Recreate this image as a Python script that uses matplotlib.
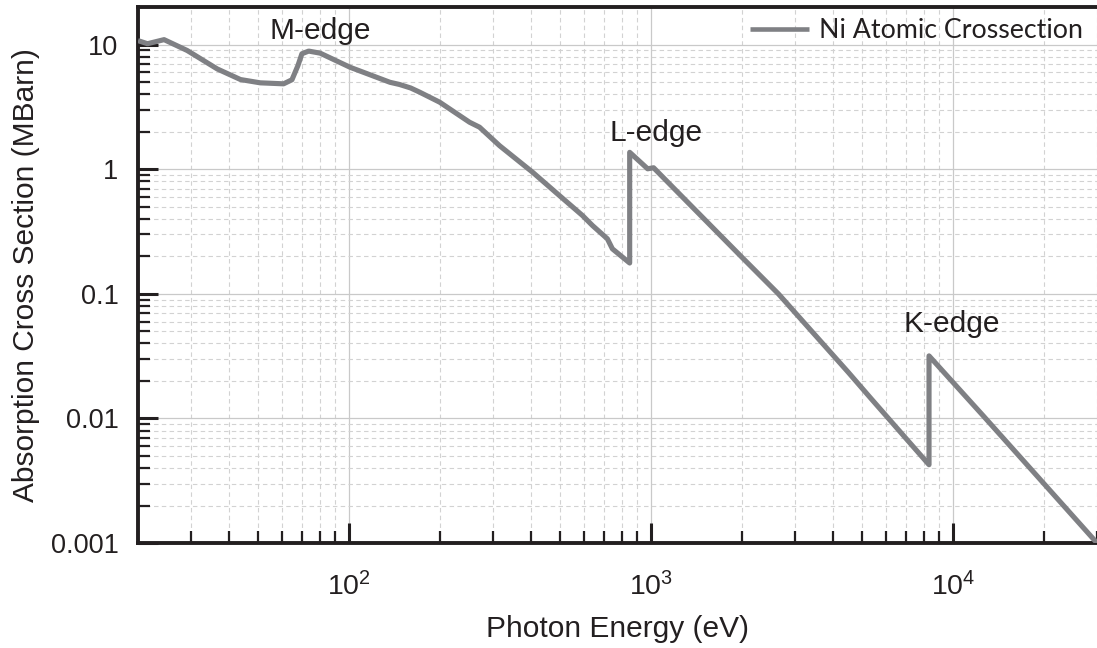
import matplotlib
matplotlib.use("Agg")
import matplotlib.pyplot as plt
from matplotlib.ticker import LogLocator, NullFormatter, FixedLocator

# ---- data ----
energy_eV = [20, 21.5, 24.4, 29.1, 36.6, 43.7, 50.8, 60.7, 64.7, 67.7, 69.8, 73.5,
             80.2, 100.8, 136.6, 147, 160, 171.5, 199.6, 232.5, 250.6, 270.5, 315,
             405, 497, 593, 640, 717, 745, 850, 850, 975, 1020, 2000, 2643, 4500,
             5374, 8333, 8333, 12600, 30000]
sigma_MBarn = [10.8, 10.2, 11.0, 9.0, 6.4, 5.26, 4.95, 4.86, 5.24, 6.8, 8.47, 8.9,
               8.57, 6.6, 5.0, 4.8, 4.5, 4.16, 3.46, 2.7, 2.39, 2.18, 1.55,
               0.95, 0.617, 0.426, 0.354, 0.277, 0.23, 0.177, 1.37, 1.01, 1.03,
               0.197, 0.1, 0.0235, 0.0143, 0.00425, 0.0318, 0.0105, 0.001]
series_label = "Ni Atomic Crossection"
edge_labels = ["M-edge", "L-edge", "K-edge"]
edge_label_x = [80.2, 1038, 9930]
edge_label_y = [11.2, 1.70, 0.0492]
y_ticks = [0.001, 0.01, 0.1, 1, 10]
y_tick_labels = ["0.001", "0.01", "0.1", "1", "10"]
x_ticks = [1e2, 1e3, 1e4]
x_tick_labels = [r"$\mathdefault{10^{2}}$", r"$\mathdefault{10^{3}}$", r"$\mathdefault{10^{4}}$"]

plt.rcParams['font.family'] = ['Liberation Sans', 'DejaVu Sans']
plt.rcParams['mathtext.fontset'] = 'custom'
plt.rcParams['mathtext.rm'] = 'Liberation Sans'
plt.rcParams['mathtext.it'] = 'Liberation Sans:italic'
plt.rcParams['mathtext.bf'] = 'Liberation Sans:bold'

W, H = 1097, 648
fig = plt.figure(figsize=(W / 100, H / 100), dpi=100)
ax = fig.add_axes([138 / W, (H - 543) / H, (W - 138) / W, 535.7 / H])

line_color = '#7f8084'
ink = '#231f20'

ax.plot(energy_eV, sigma_MBarn, color=line_color, lw=3.7, solid_joinstyle='round',
        solid_capstyle='butt', label=series_label, zorder=3)

ax.set_xscale('log')
ax.set_yscale('log')
ax.set_xlim(20, 30000)
ax.set_ylim(0.001, 20)

ax.xaxis.set_major_locator(FixedLocator(x_ticks))
ax.set_xticklabels(x_tick_labels)
ax.xaxis.set_minor_locator(LogLocator(base=10, subs=range(2, 10)))
ax.xaxis.set_minor_formatter(NullFormatter())
ax.yaxis.set_major_locator(FixedLocator(y_ticks))
ax.set_yticklabels(y_tick_labels)
ax.yaxis.set_minor_locator(LogLocator(base=10, subs=range(2, 10)))
ax.yaxis.set_minor_formatter(NullFormatter())

ax.grid(True, which='major', color='#c9c9c9', lw=0.9, ls='-', zorder=0)
ax.grid(True, which='minor', color='#d2d2d2', lw=0.8, ls=(0, (4, 3)), zorder=0)
ax.set_axisbelow(True)

for side in ['left', 'bottom', 'top']:
    ax.spines[side].set_linewidth(2.8)
    ax.spines[side].set_color(ink)
ax.spines['right'].set_visible(False)

ax.tick_params(axis='both', which='major', direction='in', length=14.5, width=2.2,
               color=ink, labelcolor=ink, top=False, right=False)
ax.tick_params(axis='both', which='minor', direction='in', length=8.8, width=1.6,
               color=ink, top=False, right=False)
ax.tick_params(axis='x', which='major', labelsize=20.5, pad=21)
ax.tick_params(axis='y', which='major', labelsize=19.5, pad=14)

ax.set_xlabel("Photon Energy (eV)", fontsize=21.5, color=ink)
ax.set_ylabel("Absorption Cross Section (MBarn)", fontsize=21.5, color=ink)
ax.xaxis.set_label_coords(0.5, -0.134)
ax.yaxis.set_label_coords(-0.1026, 0.5)

for txt, xx, yy in zip(edge_labels, edge_label_x, edge_label_y):
    ax.text(xx, yy, txt, fontsize=21.5, color=ink, ha='center', va='baseline', zorder=4)

leg = ax.legend(loc='upper right', frameon=False, handlelength=2.2, handletextpad=0.4,
                borderaxespad=0.0, bbox_to_anchor=(0.997, 1.0),
                prop={'family': 'Lato', 'size': 19.3})
for t in leg.get_texts():
    t.set_color(ink)
for h in leg.get_lines():
    h.set_linewidth(3.3)

fig.savefig("out.png", dpi=100)
